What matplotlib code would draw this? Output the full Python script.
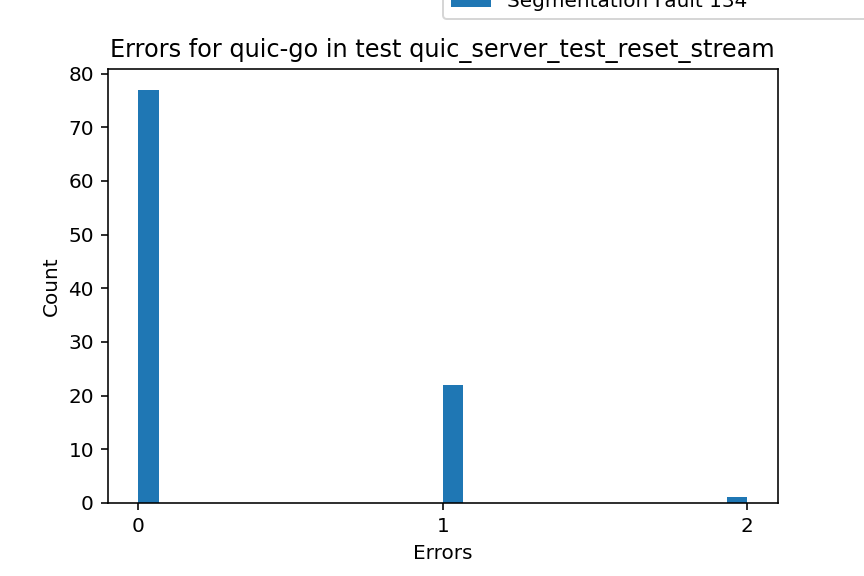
import matplotlib
matplotlib.use("Agg")
import matplotlib.pyplot as plt

# observed error counts per run
error_values = [0, 1, 2]
run_counts = [77, 22, 1]
label = "Segmentation Fault 134"

fig, ax = plt.subplots(figsize=(6, 4), dpi=144)
fig.subplots_adjust(left=0.125, right=0.9, top=0.88, bottom=0.127)

ax.hist(error_values, bins=30, weights=run_counts, color="#1f77b4", label=label)
ax.set_xticks(error_values)
ax.set_title("Errors for quic-go in test quic_server_test_reset_stream")
ax.set_xlabel("Errors")
ax.set_ylabel("Count")

ax.legend(loc="lower left", bbox_to_anchor=(0.5, 1.115, 0.7, 0.1),
          mode="expand", borderaxespad=0)

fig.savefig("out.png", dpi=144)
